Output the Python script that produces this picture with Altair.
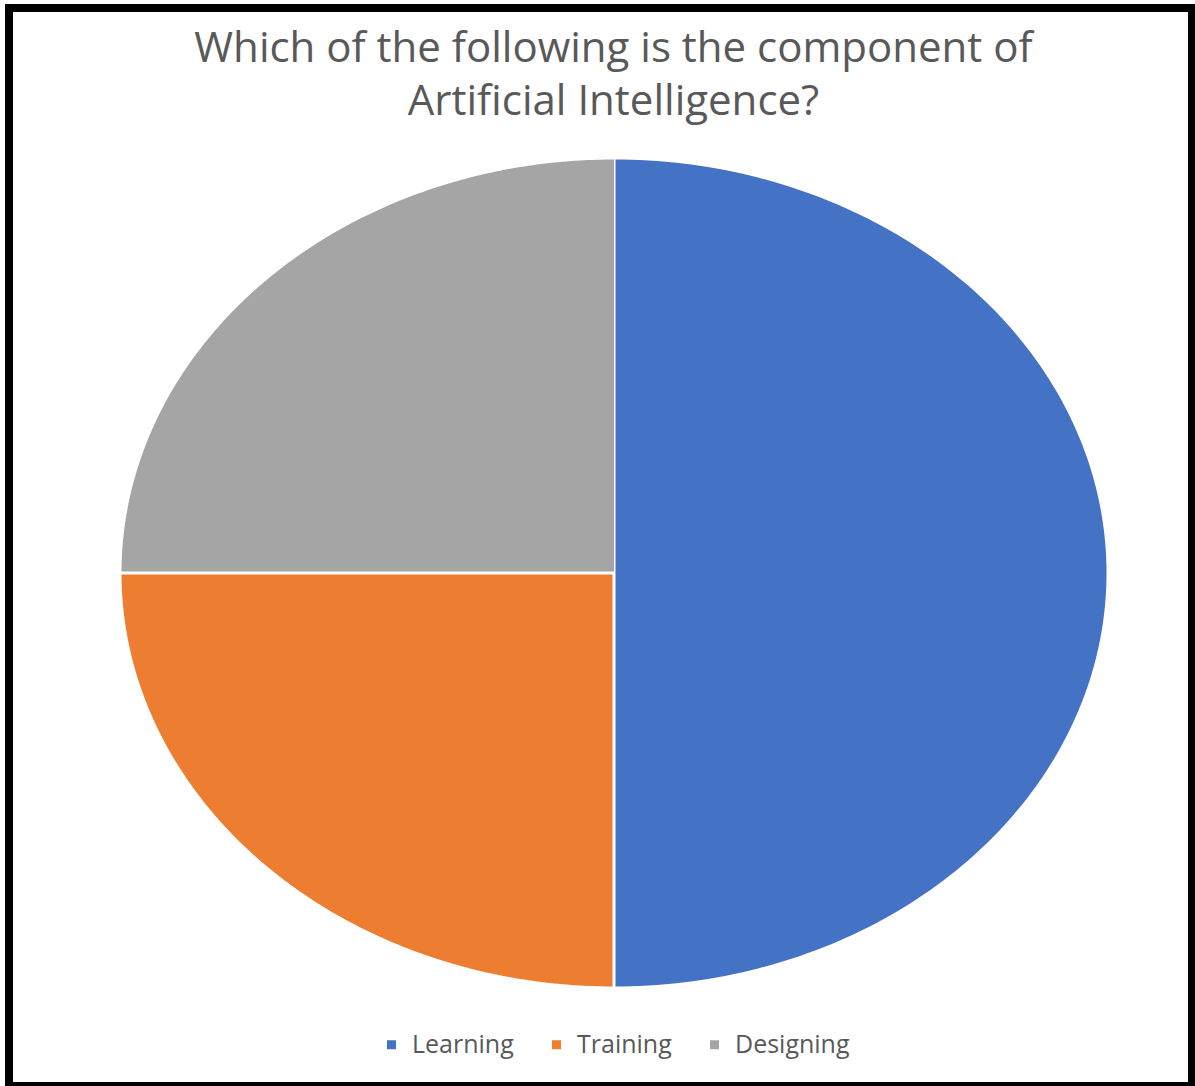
import altair as alt
import pandas as pd

categories = ["Learning", "Training", "Designing"]
values = [50, 25, 25]
order = [0, 1, 2]
colors = ["#4472C4", "#ED7D31", "#A5A5A5"]

df = pd.DataFrame({"category": categories, "value": values, "order": order})

N = 180

base = (
    alt.Chart(df)
    .transform_joinaggregate(total="sum(value)")
    .transform_window(cum="sum(value)", sort=[alt.SortField("order")])
    .transform_calculate(
        start="(datum.cum - datum.value) / datum.total * 2 * PI",
        end="datum.cum / datum.total * 2 * PI",
        pts=f"sequence(-1, {N + 1})",
    )
    .transform_flatten(["pts"], as_=["i"])
    .transform_calculate(
        a=f"datum.start + (datum.end - datum.start) * datum.i / {N}",
    )
    .transform_calculate(
        px="datum.i < 0 ? 0 : sin(datum.a)",
        py="datum.i < 0 ? 0 : cos(datum.a)",
    )
)

pie = base.mark_line(stroke="white", strokeWidth=3, strokeJoin="miter").encode(
    x=alt.X("px:Q", scale=alt.Scale(domain=[-1.2247, 1.1700], nice=False, zero=False), axis=None),
    y=alt.Y("py:Q", scale=alt.Scale(domain=[-1.2361, 1.3614], nice=False, zero=False), axis=None),
    fill=alt.Fill(
        "category:N",
        scale=alt.Scale(domain=categories, range=colors),
        sort=categories,
        legend=alt.Legend(
            title=None,
            orient="none",
            direction="horizontal",
            legendX=370,
            legendY=1024,
            symbolType="square",
            symbolSize=81,
            symbolStrokeWidth=0,
            labelFontSize=25,
            labelFont="Open Sans",
            labelColor="#595959",
            columnPadding=30,
            symbolOffset=0,
            labelOffset=8,
        ),
    ),
    detail="category:N",
    order=alt.Order("i:Q"),
)

chart = (
    pie.properties(
        width=1183,
        height=1078,
        padding={"left": 9, "top": 8, "right": 3, "bottom": 0},
        autosize=alt.AutoSizeParams(type="none"),
        title=alt.TitleParams(
            text=["Which of the following is the component of", "Artificial Intelligence?"],
            fontSize=42,
            font="Open Sans",
            fontWeight="normal",
            color="#595959",
            anchor="middle",
            orient="top",
            offset=-116,
            lineHeight=53,
            dx=13,
        ),
    )
    .configure(background="white")
    .configure_view(stroke="black", strokeWidth=8)
)

chart.save("out.html", embed_options={"renderer": "svg", "actions": False})
